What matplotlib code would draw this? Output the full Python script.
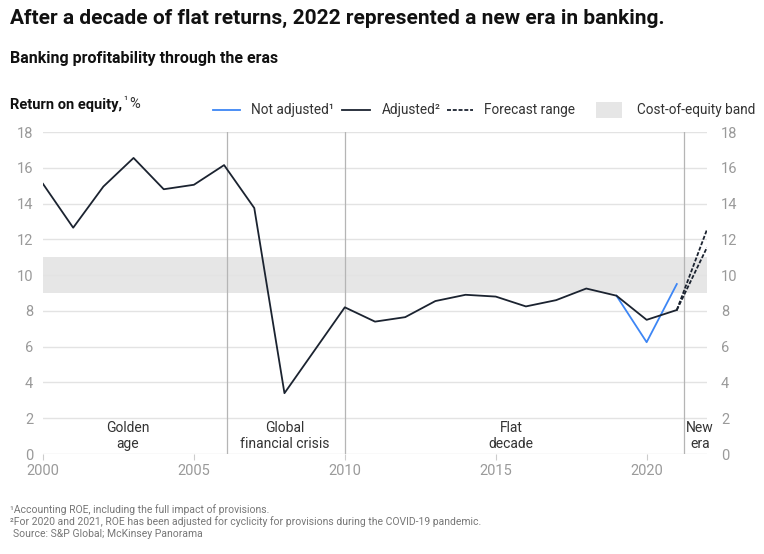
import matplotlib
matplotlib.use('Agg')
import matplotlib.pyplot as plt
from matplotlib.lines import Line2D
from matplotlib.patches import Rectangle

plt.rcParams['font.family'] = ['Roboto', 'DejaVu Sans']

# data
years = list(range(2000, 2022))
roe_adjusted = [15.1, 12.65, 14.95, 16.55, 14.8, 15.05, 16.15, 13.75, 3.4, 5.8, 8.2,
                7.4, 7.65, 8.55, 8.9, 8.8, 8.25, 8.6, 9.25, 8.85, 7.5, 8.05]
years_not_adjusted = [2019, 2020, 2021]
roe_not_adjusted = [8.85, 6.25, 9.5]
forecast_x = [2021, 2022]
forecast_high = [8.05, 12.55]
forecast_low = [8.05, 11.55]
coe_band = (9, 11)
era_breaks = [2006.1, 2010.0, 2021.25]
eras = ['Golden\nage', 'Global\nfinancial crisis', 'Flat\ndecade', 'New\nera']
era_centers = [2002.8, 2008.0, 2015.5, 2021.77]

BLACK = '#1b2330'
BLUE = '#3d86f5'
GRAY_TXT = '#9a9a9a'
DASH = (0, (2.2, 1.0))

W, H = 764, 554
fig = plt.figure(figsize=(W / 100, H / 100), dpi=100)


def fx(px):
    return px / W


def fy(py):
    return 1 - py / H


ax = fig.add_axes([fx(43), fy(454), fx(707) - fx(43), fy(132) - fy(454)])
ax.set_xlim(2000, 2022)
ax.set_ylim(0, 18)

ax.axhspan(coe_band[0], coe_band[1], color='#e6e6e6', zorder=0, lw=0)
for yv in range(0, 19, 2):
    ax.axhline(yv, color='#e3e3e3', lw=1, zorder=1)
for xv in era_breaks:
    ax.axvline(xv, color='#b5b5b5', lw=0.9, zorder=1)

ax.plot(years_not_adjusted, roe_not_adjusted, color=BLUE, lw=1.3, zorder=3)
ax.plot(years, roe_adjusted, color=BLACK, lw=1.3, zorder=4)
ax.plot(forecast_x, forecast_high, color=BLACK, lw=1.3, ls=DASH, zorder=4)
ax.plot(forecast_x, forecast_low, color=BLACK, lw=1.3, ls=DASH, zorder=4)

for label, xc in zip(eras, era_centers):
    ax.text(xc, 1.0, label, ha='center', va='center', fontsize=10,
            color='#333333', linespacing=1.2)

for s in ax.spines.values():
    s.set_visible(False)
ax.set_xticks(range(2000, 2021, 5))
ax.set_yticks(range(0, 19, 2))
ax.tick_params(axis='x', length=4, color='#cccccc', labelcolor=GRAY_TXT, labelsize=10.5, pad=3)
ax.tick_params(axis='y', length=0, labelcolor=GRAY_TXT, labelsize=10.5, pad=7)

ax2 = ax.twinx()
ax2.set_ylim(0, 18)
ax2.set_yticks(range(0, 19, 2))
for s in ax2.spines.values():
    s.set_visible(False)
ax2.tick_params(axis='y', length=0, labelcolor=GRAY_TXT, labelsize=10.5, pad=10)

# titles
fig.text(fx(10), fy(18), 'After a decade of flat returns, 2022 represented a new era in banking.',
         fontsize=15, weight='semibold', color='#111111', va='center')
fig.text(fx(10), fy(58), 'Banking profitability through the eras',
         fontsize=11.5, weight='semibold', color='#111111', va='center')
ylab = fig.text(fx(10), fy(105), 'Return on equity,', fontsize=10.5, weight='semibold',
                color='#111111', va='center')
fig.canvas.draw()
bb = ylab.get_window_extent()
end_px = bb.x1
fig.text(fx(end_px + 1), fy(101), '¹', fontsize=8, color='#333333', va='center')
fig.text(fx(end_px + 7), fy(104), '%', fontsize=10.5, color='#333333', va='center')

# legend drawn by hand
ly = fy(110)
fig.add_artist(Line2D([fx(213), fx(240)], [ly, ly], color=BLUE, lw=1.3))
fig.text(fx(251), ly, 'Not adjusted¹', fontsize=9.8, color='#333333', va='center')
fig.add_artist(Line2D([fx(342), fx(370)], [ly, ly], color=BLACK, lw=1.3))
fig.text(fx(382), ly, 'Adjusted²', fontsize=9.8, color='#333333', va='center')
fig.add_artist(Line2D([fx(447), fx(473)], [ly, ly], color=BLACK, lw=1.3, ls=DASH))
fig.text(fx(484), ly, 'Forecast range', fontsize=9.8, color='#333333', va='center')
fig.add_artist(Rectangle((fx(596), fy(118)), fx(26), fy(102) - fy(118),
                         transform=fig.transFigure, color='#e6e6e6', lw=0))
fig.text(fx(637), ly, 'Cost-of-equity band', fontsize=9.8, color='#333333', va='center')

# footnotes
fig.text(fx(10), fy(510), '¹Accounting ROE, including the full impact of provisions.',
         fontsize=7.5, color='#777777', va='center')
fig.text(fx(10), fy(522), '²For 2020 and 2021, ROE has been adjusted for cyclicity for provisions '
         'during the COVID-19 pandemic.', fontsize=7.5, color='#777777', va='center')
fig.text(fx(13), fy(534), 'Source: S&P Global; McKinsey Panorama',
         fontsize=7.5, color='#777777', va='center')

fig.savefig('out.png', dpi=100)
